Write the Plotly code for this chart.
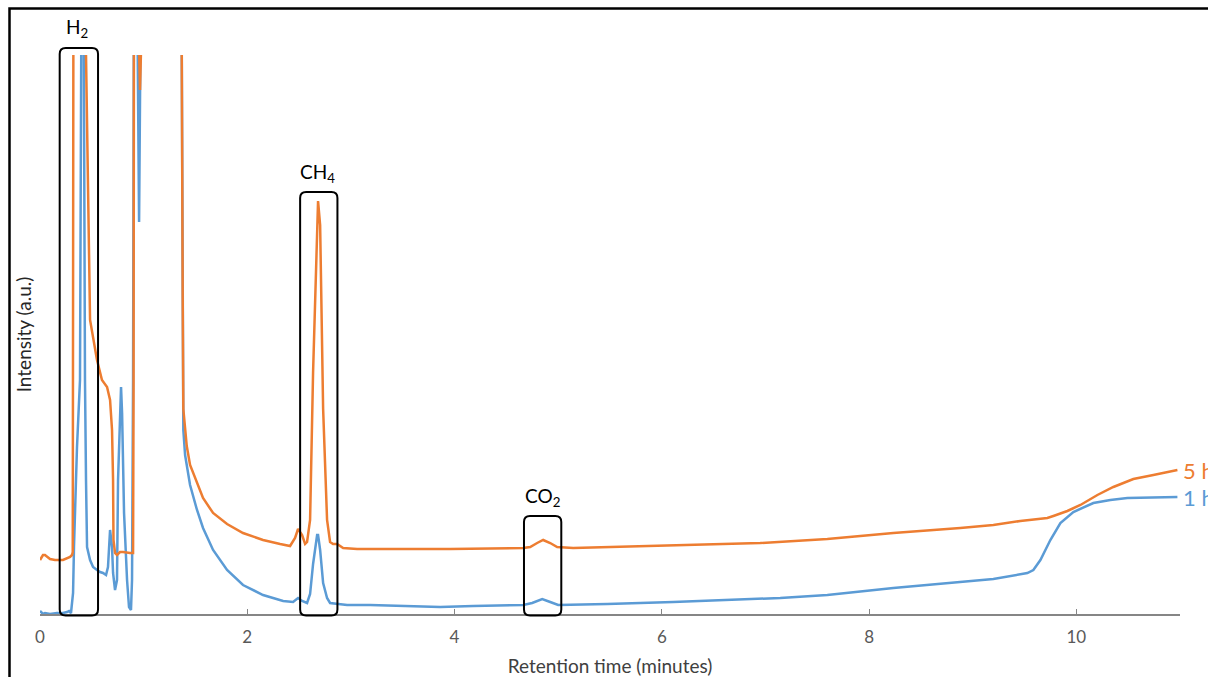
import plotly.graph_objects as go

# ---------------- data ----------------
# retention time in minutes, intensity in arbitrary units (values above 559 are off-scale)
time_1h = [0.000, 0.029, 0.048, 0.097, 0.164, 0.222, 0.261, 0.280, 0.299, 0.319, 0.328, 0.357,
           0.386, 0.401, 0.420, 0.430, 0.434, 0.444, 0.454, 0.483, 0.512, 0.550, 0.579, 0.608,
           0.637, 0.656, 0.676, 0.695, 0.705, 0.724, 0.743, 0.753, 0.772, 0.782, 0.792, 0.811,
           0.840, 0.859, 0.878, 0.888, 0.898, 0.907, 0.936, 0.956, 0.975, 1.361, 1.368, 1.377,
           1.383, 1.400, 1.448, 1.515, 1.573, 1.670, 1.805, 1.959, 2.152, 2.346, 2.442, 2.490,
           2.529, 2.577, 2.606, 2.635, 2.674, 2.683, 2.703, 2.732, 2.770, 2.799, 2.867, 2.963,
           3.185, 3.861, 4.180, 4.662, 4.749, 4.846, 4.923, 5.000, 5.473, 6.110, 7.143, 7.597,
           8.234, 8.880, 9.199, 9.527, 9.585, 9.653, 9.749, 9.846, 9.971, 10.164, 10.328,
           10.492, 10.975]
intensity_1h = [3, 0, 1, 0, 1, 1, 2, 3, 1, 21, 67, 167,
                234, 650, 650, 294, 234, 134, 67, 54, 47, 44, 42, 41,
                39, 47, 84, 67, 41, 24, 34, 134, 201, 227, 201, 101,
                34, 7, 4, 34, 234, 650, 650, 392, 650, 650, 559, 316,
                184, 159, 129, 104, 86, 64, 44, 29, 19, 13, 12, 16,
                13, 11, 20, 50, 79, 79, 64, 31, 16, 11, 10, 9,
                9, 7, 8, 9, 11, 15, 12, 9, 10, 12, 16, 19,
                26, 32, 35, 41, 44, 54, 74, 91, 102, 111, 114,
                116, 117]

time_5h = [0.000, 0.029, 0.048, 0.068, 0.097, 0.145, 0.222, 0.290, 0.309, 0.316, 0.319, 0.323,
           0.439, 0.444, 0.483, 0.550, 0.598, 0.647, 0.676, 0.695, 0.705, 0.709, 0.724, 0.743,
           0.772, 0.801, 0.869, 0.898, 0.903, 0.907, 0.956, 0.965, 0.975, 0.985, 1.361, 1.368,
           1.377, 1.383, 1.400, 1.416, 1.448, 1.513, 1.573, 1.670, 1.805, 1.959, 2.152, 2.317,
           2.413, 2.461, 2.490, 2.529, 2.558, 2.577, 2.606, 2.635, 2.674, 2.683, 2.703, 2.732,
           2.770, 2.799, 2.828, 2.867, 2.925, 3.060, 3.185, 3.958, 4.662, 4.730, 4.797, 4.855,
           4.923, 4.990, 5.145, 5.792, 6.110, 6.950, 7.597, 8.234, 8.880, 9.199, 9.459, 9.720,
           9.778, 9.913, 10.039, 10.203, 10.357, 10.550, 10.743, 10.975]
intensity_5h = [54, 59, 59, 57, 55, 54, 54, 57, 59, 62, 214, 650,
                650, 559, 294, 254, 234, 227, 214, 184, 134, 74, 61, 59,
                62, 62, 61, 61, 234, 650, 565, 524, 565, 650, 650, 559,
                316, 205, 186, 168, 149, 131, 116, 101, 90, 81, 74, 70,
                68, 76, 85, 79, 70, 72, 94, 242, 389, 413, 389, 205,
                94, 72, 70, 70, 66, 65, 65, 65, 66, 67, 71, 74,
                71, 67, 66, 68, 69, 71, 75, 81, 86, 89, 93, 96,
                98, 103, 109, 119, 127, 135, 139, 144]

series_names = ["1 h", "5 h"]
x_ticks = [0, 2, 4, 6, 8, 10]

peak_labels = ["H<sub>2</sub>", "CH<sub>4</sub>", "CO<sub>2</sub>"]
peak_box_start = [0.19, 2.51, 4.67]
peak_box_end = [0.56, 2.87, 5.03]
peak_box_top = [566, 422, 98]
peak_label_x = [0.36, 2.68, 4.85]
peak_label_y = [586, 441, 117]

# ---------------- styling ----------------
X_MAX = 11.0
Y_MAX = 559.0
BLUE = "#5B9BD5"
ORANGE = "#ED7D31"
FONT = "Lato"
PLOT_W = 1140.0
PLOT_H = 559.0

fig = go.Figure()
fig.add_trace(go.Scatter(x=time_1h, y=intensity_1h, mode="lines", name=series_names[0],
                         line=dict(color=BLUE, width=2.5), showlegend=False))
fig.add_trace(go.Scatter(x=time_5h, y=intensity_5h, mode="lines", name=series_names[1],
                         line=dict(color=ORANGE, width=2.5), showlegend=False))


def rounded_box(x0, x1, y0, y1, rx, ry):
    return (f"M {x0+rx},{y0} L {x1-rx},{y0} Q {x1},{y0} {x1},{y0+ry} "
            f"L {x1},{y1-ry} Q {x1},{y1} {x1-rx},{y1} L {x0+rx},{y1} "
            f"Q {x0},{y1} {x0},{y1-ry} L {x0},{y0+ry} Q {x0},{y0} {x0+rx},{y0} Z")


shapes = []
annotations = []
for lab, xs, xe, yt, lx, ly in zip(peak_labels, peak_box_start, peak_box_end,
                                   peak_box_top, peak_label_x, peak_label_y):
    shapes.append(dict(type="path", xref="paper", yref="paper",
                       path=rounded_box(xs / X_MAX, xe / X_MAX, -1.5 / Y_MAX, yt / Y_MAX,
                                        6 / PLOT_W, 6 / PLOT_H),
                       line=dict(color="black", width=2), fillcolor="rgba(0,0,0,0)"))
    annotations.append(dict(x=lx, y=ly / Y_MAX, xref="x", yref="paper", text=lab,
                            showarrow=False, font=dict(family=FONT, size=19, color="black"),
                            xanchor="center", yanchor="middle"))

# outer frame of the picture (right and bottom edges lie outside the page)
shapes.append(dict(type="rect", xref="paper", yref="paper",
                   x0=(9.5 - 40) / PLOT_W, x1=(1240 - 40) / PLOT_W,
                   y0=(614 - 700) / PLOT_H, y1=(614 - 8.5) / PLOT_H,
                   line=dict(color="black", width=2.5), fillcolor="rgba(0,0,0,0)"))

# series end labels
for name, yv, col in [(series_names[1], intensity_5h[-1], ORANGE),
                      (series_names[0], intensity_1h[-1], BLUE)]:
    annotations.append(dict(x=(1181 - 40) / PLOT_W, y=yv / Y_MAX, xref="paper", yref="paper",
                            text=name, showarrow=False, xanchor="left", yanchor="middle",
                            font=dict(family=FONT, size=22, color=col)))

fig.update_layout(
    width=1208, height=677,
    margin=dict(l=40, r=28, t=55, b=63, autoexpand=False),
    paper_bgcolor="white", plot_bgcolor="white",
    font=dict(family=FONT, color="#595959"),
    shapes=shapes, annotations=annotations,
    xaxis=dict(range=[0, X_MAX], tickvals=x_ticks, ticktext=[str(v) for v in x_ticks],
               showgrid=False, zeroline=False, showline=True, linecolor="#868686",
               linewidth=1.5, ticks="inside", ticklen=5, tickwidth=1, tickcolor="#868686",
               tickfont=dict(family=FONT, size=17, color="#595959"),
               ticklabelstandoff=7,
               title=dict(text="Retention time (minutes)", standoff=14,
                          font=dict(family=FONT, size=19, color="#404040")),
               automargin=False),
    yaxis=dict(range=[0, Y_MAX], showgrid=False, zeroline=False, showline=False,
               showticklabels=False, ticks="",
               title=dict(text="Intensity (a.u.)", standoff=2,
                          font=dict(family=FONT, size=19, color="#262626")),
               automargin=False),
)

fig.write_html(
    "out.html",
    config={"displayModeBar": False},
    post_script="document.body.style.margin='0px';document.body.style.overflow='hidden';",
)
